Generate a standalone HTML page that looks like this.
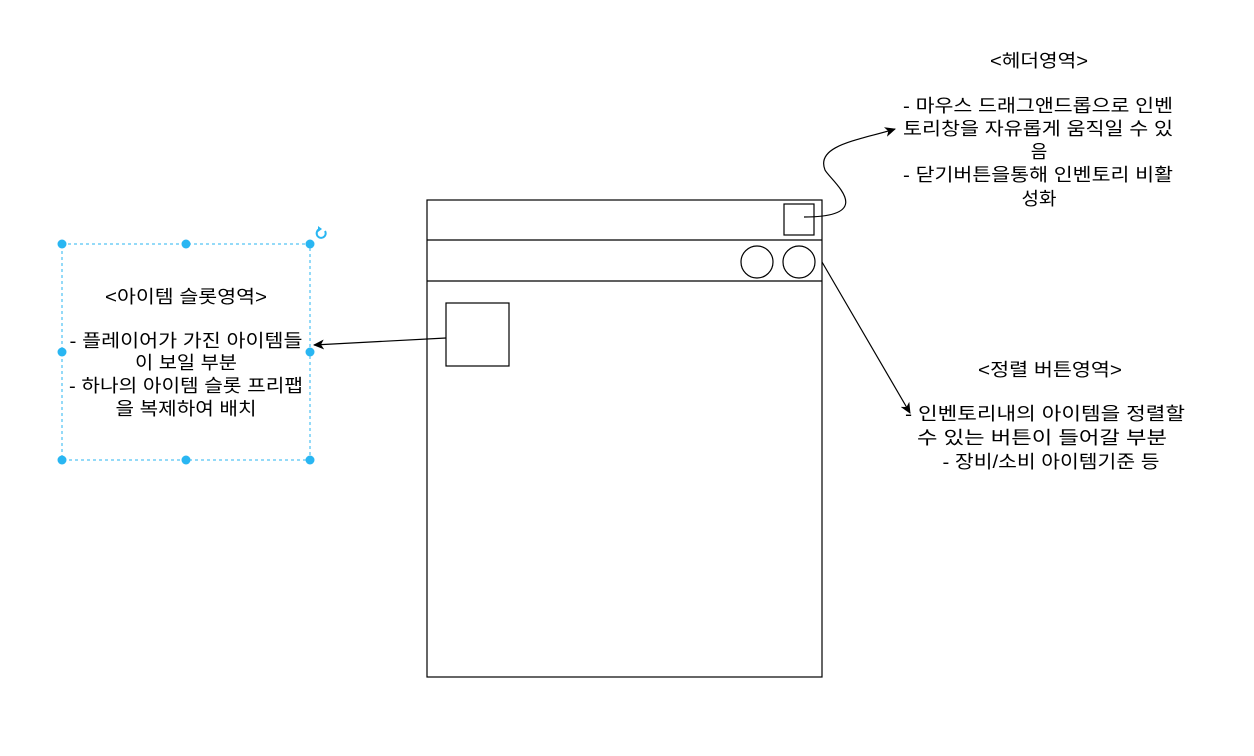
<!DOCTYPE html>
<html><head><meta charset="utf-8"><style>
html,body{margin:0;padding:0;background:#fff;}
svg text{font-family:"Liberation Sans","Noto Sans CJK KR",sans-serif;font-size:18px;fill:#000;text-anchor:middle;}
</style></head><body>
<svg width="1254" height="751" viewBox="0 0 1254 751" xmlns="http://www.w3.org/2000/svg">
<defs><marker id="a" markerWidth="12" markerHeight="10" refX="10" refY="5" orient="auto" markerUnits="userSpaceOnUse"><path d="M0,0 L11,5 L0,10 L3,5 Z" fill="#000"/></marker></defs>
<g fill="none" stroke="#000" stroke-width="1.2">
<rect x="427" y="200" width="395" height="477"/>
<line x1="427" y1="240" x2="822" y2="240"/>
<line x1="427" y1="281" x2="822" y2="281"/>
<rect x="784" y="204" width="30" height="31"/>
<circle cx="757" cy="262" r="16"/>
<circle cx="799" cy="262" r="16"/>
<rect x="446" y="303" width="63" height="63"/>
<path d="M804,217 C880,217 830,180 825,170 C815,145 860,140 895,129" marker-end="url(#a)"/>
<line x1="446" y1="338" x2="314" y2="345" marker-end="url(#a)"/>
<line x1="822" y1="262" x2="910" y2="413" marker-end="url(#a)"/>
</g>
<rect x="62" y="244" width="248" height="216" fill="none" stroke="#29b6f2" stroke-dasharray="3,3"/>
<g fill="#29b6f2">
<circle cx="62" cy="244" r="4.5"/><circle cx="186" cy="244" r="4.5"/><circle cx="310" cy="244" r="4.5"/>
<circle cx="62" cy="352" r="4.5"/><circle cx="310" cy="352" r="4.5"/>
<circle cx="62" cy="460" r="4.5"/><circle cx="186" cy="460" r="4.5"/><circle cx="310" cy="460" r="4.5"/>
</g>
<path d="M325,231 A4.5,4.5 0 1 1 320,229" fill="none" stroke="#29b6f2" stroke-width="2"/>
<path d="M318,226 L322,229 L318,232 Z" fill="#29b6f2"/>
<g lengthAdjust="spacingAndGlyphs">
<text x="186" y="303" textLength="162" lengthAdjust="spacingAndGlyphs">&lt;아이템 슬롯영역&gt;</text>
<text x="186" y="347" textLength="233" lengthAdjust="spacingAndGlyphs">- 플레이어가 가진 아이템들</text>
<text x="186" y="369" textLength="102" lengthAdjust="spacingAndGlyphs">이 보일 부분</text>
<text x="186" y="392" textLength="234" lengthAdjust="spacingAndGlyphs">- 하나의 아이템 슬롯 프리팹</text>
<text x="186" y="415" textLength="141" lengthAdjust="spacingAndGlyphs">을 복제하여 배치</text>
<text x="1039" y="67" textLength="98" lengthAdjust="spacingAndGlyphs">&lt;헤더영역&gt;</text>
<text x="1038" y="112" textLength="270" lengthAdjust="spacingAndGlyphs">- 마우스 드래그앤드롭으로 인벤</text>
<text x="1038" y="135" textLength="270" lengthAdjust="spacingAndGlyphs">토리창을 자유롭게 움직일 수 있</text>
<text x="1039" y="158">음</text>
<text x="1038" y="181" textLength="270" lengthAdjust="spacingAndGlyphs">- 닫기버튼을통해 인벤토리 비활</text>
<text x="1039" y="205" textLength="35" lengthAdjust="spacingAndGlyphs">성화</text>
<text x="1050" y="376" textLength="144" lengthAdjust="spacingAndGlyphs">&lt;정렬 버튼영역&gt;</text>
<text x="1045" y="420" textLength="280" lengthAdjust="spacingAndGlyphs">- 인벤토리내의 아이템을 정렬할</text>
<text x="1042" y="444" textLength="250" lengthAdjust="spacingAndGlyphs">수 있는 버튼이 들어갈 부분</text>
<text x="1051" y="468" textLength="217" lengthAdjust="spacingAndGlyphs">- 장비/소비 아이템기준 등</text>
</g>
</svg>
</body></html>
